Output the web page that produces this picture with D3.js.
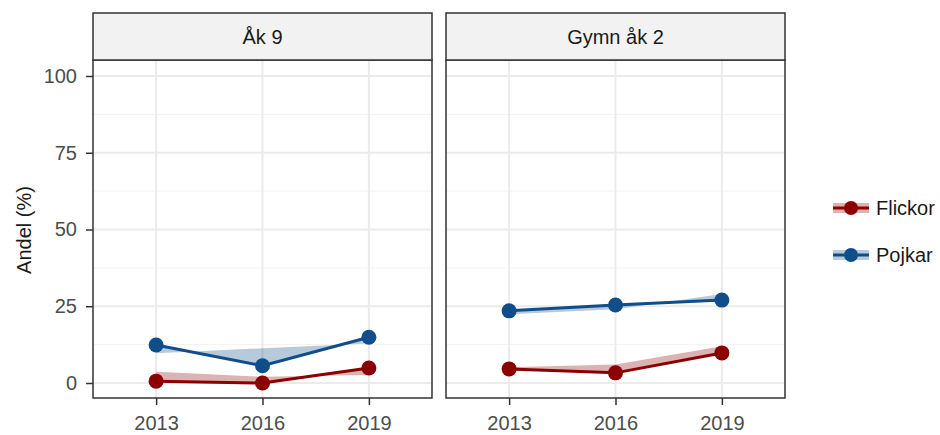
<!DOCTYPE html>
<html>
<head>
<meta charset="utf-8">
<script src="https://cdn.jsdelivr.net/npm/d3@7"></script>
<style>
  body { margin: 0; background: #fff; }
  text { font-family: "Liberation Sans", Arial, sans-serif; }
</style>
</head>
<body>
<svg></svg>
<script>
// values
var years = [2013, 2016, 2019];
var panels = ["Åk 9", "Gymn åk 2"];
var groups = ["Flickor", "Pojkar"];
var colors = ["#8b0000", "#104e8b"];
var yTicks = [0, 25, 50, 75, 100];

var flickorAk9 = [0.6, 0, 4.9];
var flickorAk9Band = [3.7, 2.0, 2.6];
var pojkarAk9 = [12.4, 5.6, 14.9];
var pojkarAk9Band = [9.7, 11.3, 12.9];

var flickorGy2 = [4.6, 3.3, 9.8];
var flickorGy2Band = [5.1, 6.0, 12.0];
var pojkarGy2 = [23.5, 25.4, 27.0];
var pojkarGy2Band = [22.4, 24.0, 29.0];

var series = [
  [flickorAk9, pojkarAk9],
  [flickorGy2, pojkarGy2]
];
var bands = [
  [flickorAk9Band, pojkarAk9Band],
  [flickorGy2Band, pojkarGy2Band]
];

function chart() {
  var width = 940, height = 435;
  var panelX = [93, 446], panelW = 339;
  var top = 60, bottom = 398, stripTop = 13;
  var fs = 20;

  var svg = d3.select("svg").attr("width", width).attr("height", height);

  var y = d3.scaleLinear().domain([0, 100]).range([383, 76]);
  var yMinor = [12.5, 37.5, 62.5, 87.5];

  panels.forEach(function(name, p) {
    var x = d3.scaleLinear().domain([2011.22, 2020.78]).range([panelX[p], panelX[p] + panelW]);
    var g = svg.append("g");

    // grid
    g.selectAll(".minor").data(yMinor).enter().append("line")
      .attr("x1", panelX[p]).attr("x2", panelX[p] + panelW)
      .attr("y1", function(d) { return y(d); }).attr("y2", function(d) { return y(d); })
      .attr("stroke", "#f2f2f2").attr("stroke-width", 1);
    g.selectAll(".major").data(yTicks).enter().append("line")
      .attr("x1", panelX[p]).attr("x2", panelX[p] + panelW)
      .attr("y1", function(d) { return y(d); }).attr("y2", function(d) { return y(d); })
      .attr("stroke", "#ebebeb").attr("stroke-width", 2);
    g.selectAll(".vgrid").data(years).enter().append("line")
      .attr("x1", function(d) { return x(d); }).attr("x2", function(d) { return x(d); })
      .attr("y1", top).attr("y2", bottom)
      .attr("stroke", "#ebebeb").attr("stroke-width", 2);

    // ribbons, lines, points
    groups.forEach(function(grp, k) {
      var vals = series[p][k], band = bands[p][k];
      var pts = years.map(function(yr, i) { return {year: yr, v: vals[i], b: band[i]}; });
      var area = d3.area()
        .x(function(d) { return x(d.year); })
        .y0(function(d) { return y(d.v); })
        .y1(function(d) { return y(d.b); });
      g.append("path").datum(pts).attr("d", area)
        .attr("fill", colors[k]).attr("fill-opacity", 0.3);
    });
    groups.forEach(function(grp, k) {
      var vals = series[p][k];
      var pts = years.map(function(yr, i) { return {year: yr, v: vals[i]}; });
      var line = d3.line()
        .x(function(d) { return x(d.year); })
        .y(function(d) { return y(d.v); });
      g.append("path").datum(pts).attr("d", line)
        .attr("fill", "none").attr("stroke", colors[k]).attr("stroke-width", 3);
      g.selectAll(".pt" + k).data(pts).enter().append("circle")
        .attr("cx", function(d) { return x(d.year); })
        .attr("cy", function(d) { return y(d.v); })
        .attr("r", 7.5).attr("fill", colors[k]);
    });

    // panel border
    g.append("rect").attr("x", panelX[p]).attr("y", top)
      .attr("width", panelW).attr("height", bottom - top)
      .attr("fill", "none").attr("stroke", "#333").attr("stroke-width", 1.5);

    // strip
    g.append("rect").attr("x", panelX[p]).attr("y", stripTop)
      .attr("width", panelW).attr("height", top - stripTop)
      .attr("fill", "#f2f2f2").attr("stroke", "#333").attr("stroke-width", 1.5);
    g.append("text").attr("x", panelX[p] + panelW / 2).attr("y", (stripTop + top) / 2)
      .attr("text-anchor", "middle").attr("dy", "0.35em")
      .attr("font-size", fs).attr("fill", "#1a1a1a").text(name);

    // x axis
    var xAxis = d3.axisBottom(x).tickValues(years).tickFormat(d3.format("d"))
      .tickSize(7).tickPadding(11);
    var ax = g.append("g").attr("transform", "translate(0," + bottom + ")").call(xAxis);
    ax.select(".domain").remove();
    ax.selectAll("line").attr("stroke", "#333").attr("stroke-width", 1.5);
    ax.selectAll("text").attr("font-size", fs).attr("fill", "#4d4d4d")
      .attr("font-family", "Liberation Sans, Arial, sans-serif");
  });

  // y axis on left panel
  var yAxis = d3.axisLeft(y).tickValues(yTicks).tickSize(7).tickPadding(9);
  var ay = svg.append("g").attr("transform", "translate(" + panelX[0] + ",0)").call(yAxis);
  ay.select(".domain").remove();
  ay.selectAll("line").attr("stroke", "#333").attr("stroke-width", 1.5);
  ay.selectAll("text").attr("font-size", fs).attr("fill", "#4d4d4d")
    .attr("font-family", "Liberation Sans, Arial, sans-serif");

  svg.append("text").attr("transform", "translate(31,230) rotate(-90)")
    .attr("text-anchor", "middle").attr("font-size", fs).attr("fill", "#1a1a1a")
    .text("Andel (%)");

  // legend
  var lg = svg.selectAll(".legend").data(groups).enter().append("g")
    .attr("transform", function(d, i) { return "translate(851," + (208 + i * 47) + ")"; });
  lg.append("rect").attr("x", -18).attr("y", -5).attr("width", 36).attr("height", 10)
    .attr("fill", function(d, i) { return colors[i]; }).attr("fill-opacity", 0.3);
  lg.append("line").attr("x1", -18).attr("x2", 18)
    .attr("stroke", function(d, i) { return colors[i]; }).attr("stroke-width", 3);
  lg.append("circle").attr("r", 7).attr("fill", function(d, i) { return colors[i]; });
  lg.append("text").attr("x", 25).attr("dy", "0.35em").attr("font-size", fs)
    .attr("fill", "#1a1a1a").text(function(d) { return d; });
}

chart();
</script>
</body>
</html>
